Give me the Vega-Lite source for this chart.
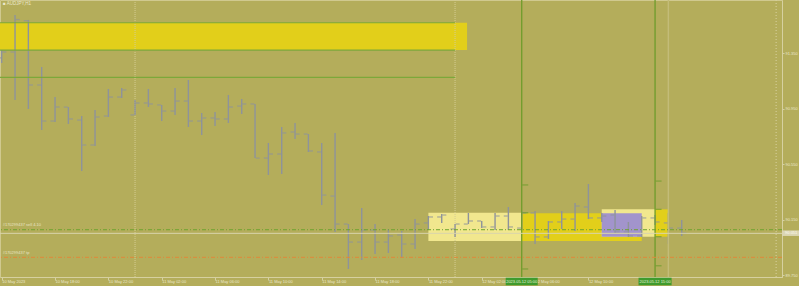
{
  "$schema": "https://vega.github.io/schema/vega-lite/v6.json",
  "width": 782,
  "height": 277,
  "autosize": {"type": "none"},
  "padding": {"left": 0, "top": 0, "right": 17, "bottom": 9},
  "background": "#b4ad5b",
  "title": {"text": "■ AUDJPY,H1", "anchor": "start", "frame": "group", "offset": -6, "fontSize": 4.5, "font": "Liberation Sans", "color": "#ece8cc", "fontWeight": "normal", "dx": 3},
  "config": {
    "view": {"stroke": "#d0c98f", "strokeWidth": 1, "fill": "#b4ad5b"},
    "axis": {"labelOverlap": false, "labelFlush": false, "labelBound": false, "labelSeparation": 0},
    "axisQuantitative": {"labelOverlap": false, "labelFlush": false},
    "axisX": {"labelOverlap": false, "labelFlush": false},
    "axisY": {"labelOverlap": false, "labelFlush": false}
  },
  "datasets": {
    "bars": [
      {"hr": 14, "o": 91.316, "h": 91.373, "l": 91.280, "c": 91.359},
      {"hr": 15, "o": 91.359, "h": 91.626, "l": 91.013, "c": 91.593},
      {"hr": 16, "o": 91.585, "h": 91.590, "l": 90.948, "c": 91.121},
      {"hr": 17, "o": 91.121, "h": 91.251, "l": 90.796, "c": 90.861},
      {"hr": 18, "o": 90.861, "h": 91.034, "l": 90.854, "c": 90.962},
      {"hr": 19, "o": 90.962, "h": 90.962, "l": 90.840, "c": 90.876},
      {"hr": 20, "o": 90.868, "h": 90.897, "l": 90.501, "c": 90.688},
      {"hr": 21, "o": 90.688, "h": 90.941, "l": 90.681, "c": 90.890},
      {"hr": 22, "o": 90.897, "h": 91.092, "l": 90.890, "c": 91.034},
      {"hr": 23, "o": 91.034, "h": 91.099, "l": 91.027, "c": 91.085},
      {"hr": 24, "o": 90.905, "h": 91.013, "l": 90.905, "c": 90.991},
      {"hr": 25, "o": 90.991, "h": 91.092, "l": 90.962, "c": 90.984},
      {"hr": 26, "o": 90.977, "h": 90.977, "l": 90.861, "c": 90.933},
      {"hr": 27, "o": 90.933, "h": 91.099, "l": 90.905, "c": 91.005},
      {"hr": 28, "o": 91.005, "h": 91.157, "l": 90.818, "c": 90.861},
      {"hr": 29, "o": 90.861, "h": 90.919, "l": 90.760, "c": 90.883},
      {"hr": 30, "o": 90.883, "h": 90.926, "l": 90.825, "c": 90.876},
      {"hr": 31, "o": 90.876, "h": 91.049, "l": 90.847, "c": 90.962},
      {"hr": 32, "o": 90.969, "h": 91.020, "l": 90.912, "c": 90.984},
      {"hr": 33, "o": 90.984, "h": 90.984, "l": 90.594, "c": 90.594},
      {"hr": 34, "o": 90.594, "h": 90.703, "l": 90.472, "c": 90.623},
      {"hr": 35, "o": 90.623, "h": 90.818, "l": 90.479, "c": 90.775},
      {"hr": 36, "o": 90.782, "h": 90.847, "l": 90.731, "c": 90.767},
      {"hr": 37, "o": 90.767, "h": 90.767, "l": 90.638, "c": 90.645},
      {"hr": 38, "o": 90.638, "h": 90.703, "l": 90.255, "c": 90.327},
      {"hr": 39, "o": 90.320, "h": 90.775, "l": 90.061, "c": 90.118},
      {"hr": 40, "o": 90.118, "h": 90.118, "l": 89.794, "c": 89.988},
      {"hr": 41, "o": 89.988, "h": 90.234, "l": 89.859, "c": 90.075},
      {"hr": 42, "o": 90.075, "h": 90.118, "l": 89.902, "c": 89.988},
      {"hr": 43, "o": 89.988, "h": 90.082, "l": 89.909, "c": 90.032},
      {"hr": 44, "o": 90.039, "h": 90.068, "l": 89.873, "c": 89.974},
      {"hr": 45, "o": 89.974, "h": 90.154, "l": 89.938, "c": 90.118},
      {"hr": 46, "o": 90.126, "h": 90.176, "l": 90.075, "c": 90.169},
      {"hr": 47, "o": 90.169, "h": 90.190, "l": 90.126, "c": 90.183},
      {"hr": 48, "o": 90.082, "h": 90.118, "l": 90.025, "c": 90.118},
      {"hr": 49, "o": 90.118, "h": 90.198, "l": 90.118, "c": 90.140},
      {"hr": 50, "o": 90.140, "h": 90.140, "l": 90.089, "c": 90.097},
      {"hr": 51, "o": 90.097, "h": 90.198, "l": 90.075, "c": 90.176},
      {"hr": 52, "o": 90.176, "h": 90.241, "l": 90.075, "c": 90.097},
      {"hr": 53, "o": 90.089, "h": 90.212, "l": 90.075, "c": 90.198},
      {"hr": 54, "o": 90.198, "h": 90.212, "l": 89.974, "c": 90.025},
      {"hr": 55, "o": 90.025, "h": 90.140, "l": 90.010, "c": 90.133},
      {"hr": 56, "o": 90.133, "h": 90.212, "l": 90.082, "c": 90.154},
      {"hr": 57, "o": 90.154, "h": 90.270, "l": 90.068, "c": 90.248},
      {"hr": 58, "o": 90.241, "h": 90.407, "l": 90.154, "c": 90.162},
      {"hr": 59, "o": 90.162, "h": 90.198, "l": 90.133, "c": 90.176},
      {"hr": 60, "o": 90.183, "h": 90.219, "l": 90.053, "c": 90.061},
      {"hr": 61, "o": 90.061, "h": 90.133, "l": 90.025, "c": 90.032},
      {"hr": 62, "o": 90.032, "h": 90.176, "l": 90.025, "c": 90.162},
      {"hr": 63, "o": 90.162, "h": 90.183, "l": 90.111, "c": 90.133},
      {"hr": 64, "o": 90.126, "h": 90.198, "l": 89.974, "c": 90.089},
      {"hr": 65, "o": 90.089, "h": 90.147, "l": 90.032, "c": 90.053}
    ]
  },
  "layer": [
    {
      "data": {"values": [
        {"x1": 12, "x2": 48.9, "y1": 91.570, "y2": 91.373, "k": "gold"},
        {"x1": 46, "x2": 53, "y1": 90.200, "y2": 89.996, "k": "khaki"},
        {"x1": 53, "x2": 62, "y1": 90.195, "y2": 89.996, "k": "gold"},
        {"x1": 59, "x2": 63, "y1": 90.224, "y2": 90.027, "k": "khaki"},
        {"x1": 63, "x2": 64, "y1": 90.224, "y2": 90.027, "k": "gold"},
        {"x1": 59, "x2": 62, "y1": 90.195, "y2": 90.027, "k": "purple"}
      ]},
      "mark": {"type": "rect", "clip": true},
      "encoding": {
        "x": {"field": "x1", "type": "quantitative", "title": null,
              "scale": {"domain": [13.8725, 72.52], "zero": false, "nice": false},
              "axis": {"orient": "bottom", "labelFontSize": 4, "labelFont": "Liberation Sans", "labelColor": "#ebe7cb", "tickColor": "#d6d0a0", "domainColor": "#d6d0a0", "tickSize": 3, "labelAlign": "left", "labelBaseline": "top", "labelPadding": -1, "grid": false, "labelOverlap": false, "labelFlush": false, "labelBound": false, "labelSeparation": 0,
                       "values": [14, 16, 18, 20, 22, 24, 26, 28, 30, 32, 34, 36, 38, 40, 42, 44, 46, 48, 50, 52, 54, 56, 58, 60, 62, 64],
                       "labelExpr": "datum.value == 14 ? '10 May 2023' : (10 + floor(datum.value / 24)) + ' May ' + ((datum.value % 24) < 10 ? '0' : '') + (datum.value % 24) + ':00'"}},
        "x2": {"field": "x2"},
        "y": {"field": "y1", "type": "quantitative", "title": null,
              "scale": {"domain": [89.736, 91.734], "zero": false, "nice": false},
              "axis": {"orient": "right", "labelFontSize": 4, "labelFont": "Liberation Sans", "labelColor": "#ebe7cb", "tickColor": "#d6d0a0", "domainColor": "#d6d0a0", "tickSize": 2, "labelPadding": 1, "grid": false, "format": ".3f", "labelOverlap": false, "labelFlush": false, "labelBound": false, "labelSeparation": 0,
                       "values": [91.65, 91.55, 91.45, 91.35, 91.25, 91.15, 91.05, 90.95, 90.85, 90.75, 90.65, 90.55, 90.45, 90.35, 90.25, 90.15, 90.05, 89.95, 89.85, 89.75]}},
        "y2": {"field": "y2"},
        "color": {"field": "k", "type": "nominal", "legend": null, "scale": {"domain": ["gold", "khaki", "purple"], "range": ["#e2cf1a", "#f1e78e", "#a294cc"]}}
      }
    },
    {
      "data": {"values": [{"hr": 24}, {"hr": 48}]},
      "mark": {"type": "rule", "color": "#d4cc92", "strokeDash": [1, 1], "strokeWidth": 1},
      "encoding": {"x": {"field": "hr", "type": "quantitative"}}
    },
    {
      "data": {"name": "bars"},
      "mark": {"type": "rule", "color": "#8e939b", "strokeWidth": 1.4},
      "encoding": {
        "x": {"field": "hr", "type": "quantitative"},
        "y": {"field": "l", "type": "quantitative"},
        "y2": {"field": "h"}
      }
    },
    {
      "data": {"name": "bars"},
      "mark": {"type": "tick", "orient": "horizontal", "size": 4, "thickness": 1.3, "xOffset": -2.6, "color": "#8e939b"},
      "encoding": {"x": {"field": "hr", "type": "quantitative"}, "y": {"field": "o", "type": "quantitative"}}
    },
    {
      "data": {"name": "bars"},
      "mark": {"type": "tick", "orient": "horizontal", "size": 4, "thickness": 1.3, "xOffset": 2.6, "color": "#8e939b"},
      "encoding": {"x": {"field": "hr", "type": "quantitative"}, "y": {"field": "c", "type": "quantitative"}}
    },
    {
      "data": {"values": [
        {"x1": 12, "x2": 48, "p": 91.570},
        {"x1": 12, "x2": 48, "p": 91.373},
        {"x1": 12, "x2": 48, "p": 91.176}
      ]},
      "mark": {"type": "rule", "color": "#7ca83a", "strokeWidth": 1.2, "clip": true},
      "encoding": {"x": {"field": "x1", "type": "quantitative"}, "x2": {"field": "x2"}, "y": {"field": "p", "type": "quantitative"}}
    },
    {
      "data": {"values": [{"hr": 64}]},
      "mark": {"type": "rule", "color": "#c3bc78", "strokeWidth": 1.5},
      "encoding": {"x": {"field": "hr", "type": "quantitative"}}
    },
    {
      "data": {"values": [{"hr": 72.08}]},
      "mark": {"type": "rule", "color": "#d8d2a0", "strokeDash": [1, 2], "strokeWidth": 1},
      "encoding": {"x": {"field": "hr", "type": "quantitative"}}
    },
    {
      "data": {"values": [{"hr": 53}, {"hr": 63}]},
      "mark": {"type": "rule", "color": "#6e9c2c", "strokeWidth": 1.3},
      "encoding": {"x": {"field": "hr", "type": "quantitative"}}
    },
    {
      "data": {"values": [
        {"hr": 53, "p": 90.400}, {"hr": 53, "p": 90.200}, {"hr": 53, "p": 89.794},
        {"hr": 63, "p": 90.428}, {"hr": 63, "p": 90.224}, {"hr": 63, "p": 90.027}, {"hr": 63, "p": 89.817}
      ]},
      "mark": {"type": "tick", "orient": "horizontal", "size": 6, "thickness": 1.3, "xOffset": 3.5, "color": "#6e9c2c"},
      "encoding": {"x": {"field": "hr", "type": "quantitative"}, "y": {"field": "p", "type": "quantitative"}}
    },
    {
      "data": {"values": [{"p": 90.051}]},
      "mark": {"type": "rule", "color": "#d9d4ac", "strokeWidth": 1},
      "encoding": {"y": {"field": "p", "type": "quantitative"}}
    },
    {
      "data": {"values": [{"p": 90.077}]},
      "mark": {"type": "rule", "color": "#6ea32e", "strokeWidth": 1, "strokeDash": [4, 2, 1, 2]},
      "encoding": {"y": {"field": "p", "type": "quantitative"}}
    },
    {
      "data": {"values": [{"p": 89.878}]},
      "mark": {"type": "rule", "color": "#e0893a", "strokeWidth": 1, "strokeDash": [4, 2, 1, 2]},
      "encoding": {"y": {"field": "p", "type": "quantitative"}}
    },
    {
      "data": {"values": [
        {"hr": 14, "p": 90.077, "s": "#170299437 sell 4.10"},
        {"hr": 14, "p": 89.878, "s": "#170299437 tp"}
      ]},
      "mark": {"type": "text", "align": "left", "baseline": "middle", "dy": -4.5, "dx": 1, "fontSize": 4, "font": "Liberation Sans", "color": "#e8e4c6"},
      "encoding": {"x": {"field": "hr", "type": "quantitative"}, "y": {"field": "p", "type": "quantitative"}, "text": {"field": "s"}}
    },
    {
      "data": {"values": [
        {"x1": 51.8, "x2": 54.2, "y1": 89.730, "y2": 89.676},
        {"x1": 61.76, "x2": 64.24, "y1": 89.730, "y2": 89.676}
      ]},
      "mark": {"type": "rect", "color": "#3f9b2e", "clip": false},
      "encoding": {"x": {"field": "x1", "type": "quantitative"}, "x2": {"field": "x2"}, "y": {"field": "y1", "type": "quantitative"}, "y2": {"field": "y2"}}
    },
    {
      "data": {"values": [
        {"hr": 53, "p": 89.703, "s": "2023.05.12 05:00"},
        {"hr": 63, "p": 89.703, "s": "2023.05.12 15:00"}
      ]},
      "mark": {"type": "text", "align": "center", "baseline": "middle", "fontSize": 4, "font": "Liberation Sans", "color": "#e6f0d6", "clip": false},
      "encoding": {"x": {"field": "hr", "type": "quantitative"}, "y": {"field": "p", "type": "quantitative"}, "text": {"field": "s"}}
    },
    {
      "data": {"values": [{"x1": 72.52, "x2": 73.85, "y1": 90.072, "y2": 90.032}]},
      "mark": {"type": "rect", "color": "#dbd6b2", "clip": false},
      "encoding": {"x": {"field": "x1", "type": "quantitative"}, "x2": {"field": "x2"}, "y": {"field": "y1", "type": "quantitative"}, "y2": {"field": "y2"}}
    },
    {
      "data": {"values": [{"hr": 72.75, "p": 90.051, "s": "90.051"}]},
      "mark": {"type": "text", "align": "left", "baseline": "middle", "fontSize": 4, "font": "Liberation Sans", "color": "#fbfaf0", "clip": false},
      "encoding": {"x": {"field": "hr", "type": "quantitative"}, "y": {"field": "p", "type": "quantitative"}, "text": {"field": "s"}}
    }
  ]
}
